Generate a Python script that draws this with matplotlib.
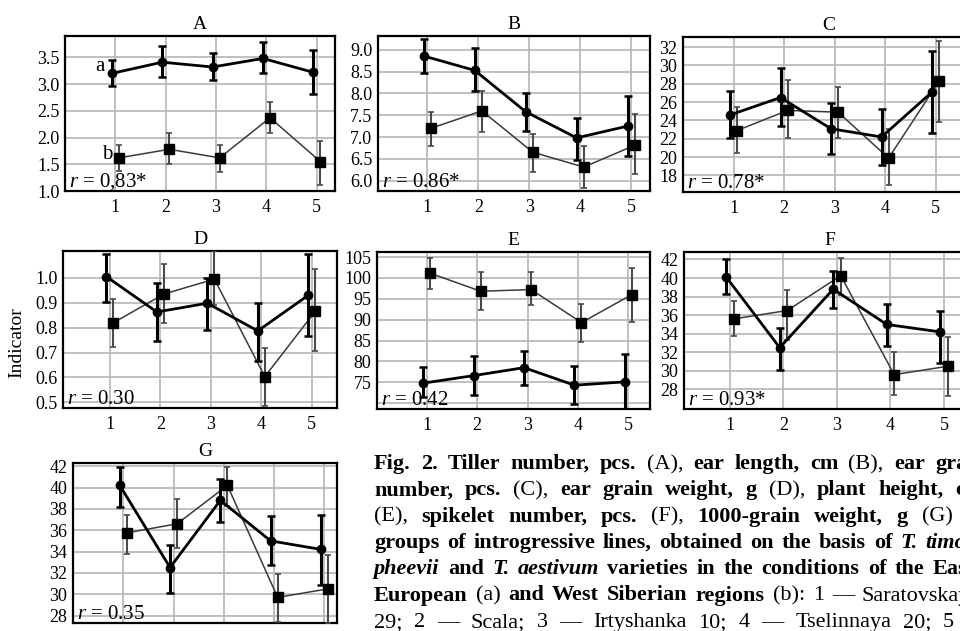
import numpy as np
import matplotlib
matplotlib.use('Agg')
import matplotlib.pyplot as plt

plt.rcParams['font.family'] = ['Liberation Serif', 'DejaVu Serif']
plt.rcParams['mathtext.fontset'] = 'custom'
plt.rcParams['mathtext.rm'] = 'Liberation Serif'
plt.rcParams['mathtext.it'] = 'Liberation Serif:italic'

# varieties 1..5
varieties = [1, 2, 3, 4, 5]

# A - tiller number
A_a = [3.20, 3.41, 3.32, 3.48, 3.22]
A_a_lo = [2.97, 3.13, 3.07, 3.20, 2.81]
A_a_hi = [3.45, 3.71, 3.59, 3.78, 3.63]
A_b = [1.62, 1.78, 1.62, 2.37, 1.55]
A_b_lo = [1.38, 1.50, 1.35, 2.08, 1.12]
A_b_hi = [1.86, 2.08, 1.86, 2.66, 1.94]

# B - ear length
B_a = [8.86, 8.53, 7.58, 6.98, 7.25]
B_a_lo = [8.47, 8.06, 7.14, 6.48, 6.57]
B_a_hi = [9.25, 9.04, 8.02, 7.44, 7.94]
B_b = [7.20, 7.60, 6.65, 6.31, 6.81]
B_b_lo = [6.80, 7.12, 6.20, 5.83, 6.15]
B_b_hi = [7.58, 8.06, 7.07, 6.80, 7.52]

# C - ear grain number
C_a = [24.6, 26.5, 23.1, 22.2, 27.1]
C_a_lo = [22.1, 23.4, 20.3, 19.1, 22.6]
C_a_hi = [27.2, 29.7, 25.9, 25.3, 31.6]
C_b = [22.9, 25.1, 24.9, 19.9, 28.3]
C_b_lo = [20.4, 22.1, 22.1, 17.0, 23.8]
C_b_hi = [25.5, 28.4, 27.7, 23.1, 32.7]

# D - ear grain weight
D_a = [1.005, 0.863, 0.898, 0.787, 0.930]
D_a_lo = [0.905, 0.745, 0.792, 0.665, 0.765]
D_a_hi = [1.095, 0.980, 1.000, 0.900, 1.095]
D_b = [0.820, 0.935, 0.995, 0.603, 0.866]
D_b_lo = [0.722, 0.820, 0.890, 0.487, 0.705]
D_b_hi = [0.915, 1.055, 1.110, 0.718, 1.035]

# E - plant height
E_a = [74.8, 76.6, 78.5, 74.3, 75.1]
E_a_lo = [71.4, 72.0, 74.4, 69.8, 68.5]
E_a_hi = [78.6, 81.2, 82.6, 79.0, 81.7]
E_b = [101.1, 96.8, 97.2, 89.3, 96.0]
E_b_lo = [97.4, 92.3, 93.4, 84.7, 89.5]
E_b_hi = [104.8, 101.4, 101.5, 93.8, 102.4]

# F - spikelet number
F_a = [40.1, 32.5, 38.8, 35.0, 34.2]
F_a_lo = [38.3, 30.1, 36.8, 32.7, 30.9]
F_a_hi = [42.0, 34.6, 40.8, 37.2, 36.5]
F_b = [35.6, 36.5, 40.25, 29.6, 30.5]
F_b_lo = [33.75, 33.3, 38.2, 27.4, 27.3]
F_b_hi = [37.5, 38.75, 42.2, 32.0, 33.7]

# G - 1000-grain weight
G_a = [40.2, 32.5, 38.8, 35.0, 34.2]
G_a_lo = [38.2, 30.1, 36.8, 32.7, 30.9]
G_a_hi = [41.9, 34.6, 40.8, 37.3, 37.4]
G_b = [35.75, 36.6, 40.2, 29.7, 30.5]
G_b_lo = [33.8, 34.3, 38.3, 27.4, 27.3]
G_b_hi = [37.45, 38.9, 41.9, 31.9, 33.7]

r_labels = ['0,83*', '0.86*', '0.78*', '0.30', '0.42', '0.93*', '0.35']

W, H = 960, 631
fig = plt.figure(figsize=(W / 100, H / 100), dpi=100)


def px_axes(x0, y0, x1, y1):
    return fig.add_axes([x0 / W, 1 - y1 / H, (x1 - x0) / W, (y1 - y0) / H])


def panel(box, title, a, a_lo, a_hi, b, b_lo, b_hi, xlim, ylim, yticks, ylabels, r):
    ax = px_axes(*box)
    x = np.array(varieties, dtype=float)
    a, a_lo, a_hi = map(np.array, (a, a_lo, a_hi))
    b, b_lo, b_hi = map(np.array, (b, b_lo, b_hi))
    ax.errorbar(x + 0.07, b, yerr=[b - b_lo, b_hi - b], color='#3a3a3a', lw=1.1,
                marker='s', ms=7, mfc='black', mec='black', ecolor='#4a4a4a',
                elinewidth=1.5, capsize=2.5, capthick=1.2, zorder=3)
    ax.errorbar(x - 0.07, a, yerr=[a - a_lo, a_hi - a], color='black', lw=2.0,
                marker='o', ms=6, ecolor='black', elinewidth=2.2, capsize=3,
                capthick=1.8, zorder=4)
    ax.set_xlim(*xlim)
    ax.set_ylim(*ylim)
    ax.set_xticks(varieties)
    ax.set_yticks(yticks)
    ax.set_yticklabels(ylabels)
    ax.grid(True, color='#b5b5b5', lw=1.2)
    ax.set_axisbelow(True)
    for s in ax.spines.values():
        s.set_linewidth(1.6)
    ax.tick_params(length=0, labelsize=13, pad=4)
    ax.tick_params(axis='x', pad=6)
    ax.set_title(title, fontsize=14, pad=5)
    ax.annotate('$r$ = ' + r, xy=(0, 0), xycoords='axes fraction', xytext=(3, 3),
                textcoords='offset points', va='baseline', ha='left', fontsize=15)
    return ax


axA = panel((65, 36, 335, 191), 'A', A_a, A_a_lo, A_a_hi, A_b, A_b_lo, A_b_hi,
            (0, 5.36), (1.0, 3.9), [1.0, 1.5, 2.0, 2.5, 3.0, 3.5],
            ['1.0', '1.5', '2.0', '2.5', '3.0', '3.5'], r_labels[0])
axA.text(0.7, 3.33, 'a', fontsize=15, ha='center', va='center')
axA.text(0.84, 1.69, 'b', fontsize=15, ha='center', va='center')

panel((378, 36, 650, 191), 'B', B_a, B_a_lo, B_a_hi, B_b, B_b_lo, B_b_hi,
      (0.03, 5.37), (5.76, 9.32), [6.0, 6.5, 7.0, 7.5, 8.0, 8.5, 9.0],
      ['6.0', '6.5', '7.0', '7.5', '8.0', '8.5', '9.0'], r_labels[1])

panel((683, 37, 975, 192), 'C', C_a, C_a_lo, C_a_hi, C_b, C_b_lo, C_b_hi,
      (0, 5.78), (16.2, 33.1), [18, 20, 22, 24, 26, 28, 30, 32],
      ['18', '20', '22', '24', '26', '28', '30', '32'], r_labels[2])

panel((63, 251, 337, 408), 'D', D_a, D_a_lo, D_a_hi, D_b, D_b_lo, D_b_hi,
      (0.07, 5.5), (0.477, 1.108), [0.5, 0.6, 0.7, 0.8, 0.9, 1.0],
      ['0.5', '0.6', '0.7', '0.8', '0.9', '1.0'], r_labels[3])

panel((377, 252, 650, 409), 'E', E_a, E_a_lo, E_a_hi, E_b, E_b_lo, E_b_hi,
      (0.01, 5.43), (68.6, 106.2), [70, 75, 80, 85, 90, 95, 100, 105],
      ['', '75', '80', '85', '90', '95', '100', '105'], r_labels[4])

panel((684, 252, 975, 409), 'F', F_a, F_a_lo, F_a_hi, F_b, F_b_lo, F_b_hi,
      (0.14, 5.58), (25.9, 42.8), [28, 30, 32, 34, 36, 38, 40, 42],
      ['28', '30', '32', '34', '36', '38', '40', '42'], r_labels[5])

panel((73, 463, 337, 623), 'G', G_a, G_a_lo, G_a_hi, G_b, G_b_lo, G_b_hi,
      (0, 5.25), (27.3, 42.3), [28, 30, 32, 34, 36, 38, 40, 42],
      ['28', '30', '32', '34', '36', '38', '40', '42'], r_labels[6])

fig.text(17 / W, 1 - 343 / H, 'Indicator', rotation=90, ha='center', va='center',
         fontsize=14)

# caption, drawn word by word so that the spacing looks justified
B_, R_, I_ = 'b', 'r', 'bi'
caption = [
    ([('Fig.', B_), ('2.', B_), ('Tiller', B_), ('number,', B_), ('pcs.', B_), ('(A),', R_),
      ('ear', B_), ('length,', B_), ('cm', B_), ('(B),', R_), ('ear', B_), ('grain', B_)], 11, 935),
    ([('number,', B_), ('pcs.', B_), ('(C),', R_), ('ear', B_), ('grain', B_), ('weight,', B_),
      ('g', B_), ('(D),', R_), ('plant', B_), ('height,', B_), ('cm', B_)], 10, 955),
    ([('(E),', R_), ('spikelet', B_), ('number,', B_), ('pcs.', B_), ('(F),', R_),
      ('1000-grain', B_), ('weight,', B_), ('g', B_), ('(G)', R_), ('in', B_)], 9, 966),
    ([('groups', B_), ('of', B_), ('introgressive', B_), ('lines,', B_), ('obtained', B_),
      ('on', B_), ('the', B_), ('basis', B_), ('of', B_), ('T.', I_), ('timo-', I_)], 10, 925),
    ([('pheevii', I_), ('and', B_), ('T.', I_), ('aestivum', I_), ('varieties', B_), ('in', B_),
      ('the', B_), ('conditions', B_), ('of', B_), ('the', B_), ('East', B_)], 10, 933),
    ([('European', B_), ('(a)', R_), ('and', B_), ('West', B_), ('Siberian', B_),
      ('regions', B_), ('(b):', R_), ('1', R_), ('\u2014', R_), ('Saratovskaya', R_)], 9, 862),
    ([('29;', R_), ('2', R_), ('\u2014', R_), ('Scala;', R_), ('3', R_), ('\u2014', R_),
      ('Irtyshanka', R_), ('10;', R_), ('4', R_), ('\u2014', R_), ('Tselinnaya', R_),
      ('20;', R_), ('5', R_), ('\u2014', R_), ('Tulunskaya', R_)], 12, 943),
]

renderer = fig.canvas.get_renderer()
x_start = 374
for i, (words, anchor, anchor_x) in enumerate(caption):
    y = 1 - (469 + 26.3 * i) / H
    texts, widths = [], []
    for w, st in words:
        t = fig.text(0, y, w, fontsize=16, va='baseline', ha='left',
                     fontweight='bold' if 'b' in st else 'normal',
                     fontstyle='italic' if 'i' in st else 'normal')
        texts.append(t)
        widths.append(t.get_window_extent(renderer).width)
    gap = (anchor_x - x_start - sum(widths[:anchor])) / anchor
    x = x_start
    for t, w in zip(texts, widths):
        t.set_x(x / W)
        x += w + gap

fig.savefig('out.png', dpi=100)
